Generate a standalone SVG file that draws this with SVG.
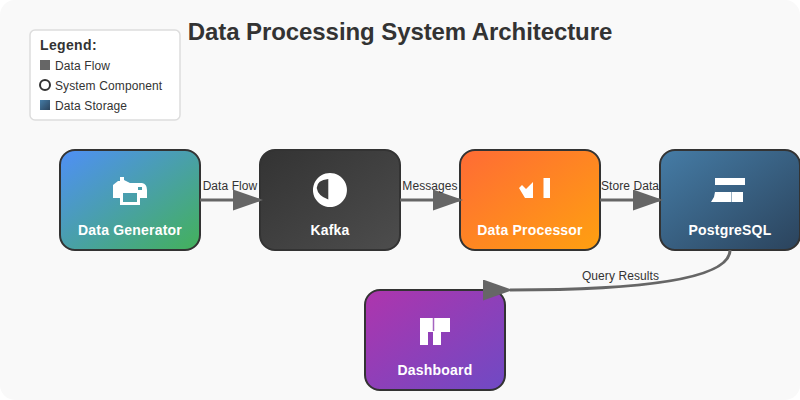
<svg xmlns="http://www.w3.org/2000/svg" width="800" height="400" viewBox="0 0 800 400">
<defs>
<linearGradient id="g1" x1="0" y1="0" x2="1" y2="1"><stop offset="0" stop-color="#4f8ff7"/><stop offset="1" stop-color="#43b15a"/></linearGradient>
<linearGradient id="g2" x1="0" y1="0" x2="1" y2="1"><stop offset="0" stop-color="#333"/><stop offset="1" stop-color="#4d4d4d"/></linearGradient>
<linearGradient id="g3" x1="0" y1="0" x2="1" y2="1"><stop offset="0" stop-color="#ff6b35"/><stop offset="1" stop-color="#ffa010"/></linearGradient>
<linearGradient id="g4" x1="0" y1="0" x2="1" y2="1"><stop offset="0" stop-color="#457ca6"/><stop offset="1" stop-color="#2b435c"/></linearGradient>
<linearGradient id="g5" x1="0" y1="0" x2="1" y2="1"><stop offset="0" stop-color="#ae35ad"/><stop offset="1" stop-color="#6f4ac4"/></linearGradient>
<marker id="arrow" markerWidth="10" markerHeight="7" refX="9" refY="3.5"><polygon points="0 0, 10 3.5, 0 7" fill="#666"/></marker>
</defs>
<style>
text{font-family:"Liberation Sans",Arial,sans-serif}
.box{stroke:#333;stroke-width:2}
.label{font-size:14px;font-weight:bold;fill:#fff;text-anchor:middle;letter-spacing:.2px}
.icon{fill:#fff;fill-rule:evenodd}
.conn{fill:none;stroke:#666;stroke-width:3;marker-end:url(#arrow)}
.clabel{font-size:12px;fill:#333;text-anchor:middle;letter-spacing:.08px}
.litem{font-size:12px;fill:#333;letter-spacing:.12px}
</style>
<rect width="800" height="400" rx="15" fill="#f9f9f9"/>
<text x="400" y="40" font-size="24" font-weight="bold" fill="#333" text-anchor="middle" letter-spacing="-.08">Data Processing System Architecture</text>
<g id="legend">
<rect x="30" y="30" width="150" height="90" rx="5" fill="#fff" stroke="#ddd" stroke-width="1.5"/>
<text x="40" y="50" font-size="14" font-weight="bold" fill="#333" letter-spacing=".35">Legend:</text>
<rect x="40" y="60" width="10" height="10" fill="#666"/>
<text x="55" y="70" class="litem">Data Flow</text>
<circle cx="45" cy="85" r="5" fill="none" stroke="#333" stroke-width="2"/>
<text x="55" y="90" class="litem">System Component</text>
<rect x="40" y="100" width="10" height="10" fill="url(#g4)"/>
<text x="55" y="110" class="litem">Data Storage</text>
</g>
<g id="node-generator">
<rect class="box" x="60" y="150" width="140" height="100" rx="15" fill="url(#g1)"/>
<path class="icon" d="M113,190V185L118,181H120V177H124V180L130,183H142Q147,184 147,190V198H140V205H120V198H113ZM123,193V202H137V193ZM138,187V190H142V187Z"/>
<text class="label" x="130" y="235">Data Generator</text>
</g>
<g id="node-kafka">
<rect class="box" x="260" y="150" width="140" height="100" rx="15" fill="url(#g2)"/>
<path class="icon" d="M330,173A17,17 0 1 1 329.900,173ZM328.300,179Q317,180 316.700,188Q318,196 328.300,199.500Z"/>
<text class="label" x="330" y="235">Kafka</text>
</g>
<g id="node-processor">
<rect class="box" x="460" y="150" width="140" height="100" rx="15" fill="url(#g3)"/>
<path class="icon" d="M519,188L522,185L526,189L533,182V198H525ZM543.500,178H550V198H543.500Z"/>
<text class="label" x="530" y="235">Data Processor</text>
</g>
<g id="node-postgres">
<rect class="box" x="660" y="150" width="140" height="100" rx="15" fill="url(#g4)"/>
<path class="icon" d="M715,178H745V185H715ZM715,192H743V202H711L714,197Z"/>
<path d="M715,185V192M731.500,192V202" stroke="#456f92" stroke-opacity=".55" fill="none"/>
<text class="label" x="730" y="235">PostgreSQL</text>
</g>
<g id="node-dashboard">
<rect class="box" x="365" y="290" width="140" height="100" rx="15" fill="url(#g5)"/>
<path class="icon" d="M420,318H450V332H441V345H433V332H428V345H420Z"/>
<path d="M433.500,318V331" stroke="#8f3db0" stroke-width="1.500" stroke-opacity=".8" fill="none"/>
<text class="label" x="435" y="375">Dashboard</text>
</g>
<g id="connectors">
<path class="conn" d="M200,200H260"/>
<path class="conn" d="M400,200H460"/>
<path class="conn" d="M600,200H660"/>
<path class="conn" d="M730,250Q730,290 510,290"/>
<text class="clabel" x="230" y="190">Data Flow</text>
<text class="clabel" x="430" y="190">Messages</text>
<text class="clabel" x="630" y="190">Store Data</text>
<text class="clabel" x="620.500" y="280">Query Results</text>
</g>
</svg>
